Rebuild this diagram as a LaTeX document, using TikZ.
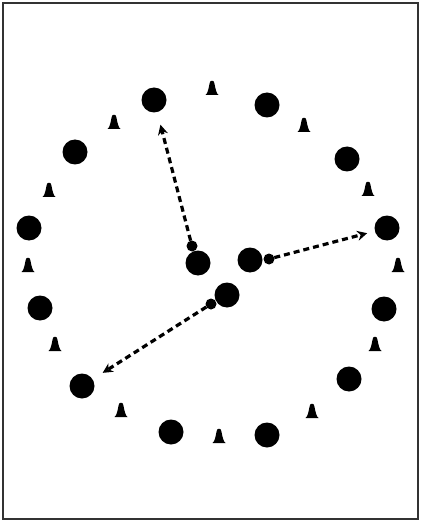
\documentclass[tikz,border=0pt]{standalone}
\usepackage{tikz}
\usetikzlibrary{positioning,arrows.meta}
\tikzset{
    bigdot/.style={circle, fill=black, minimum size=25pt, inner sep=0pt, outer sep=0pt},
    smalldot/.style={circle, fill=black, minimum size=11pt, inner sep=0pt, outer sep=0pt},
    move/.style={line width=3.2pt, dash pattern=on 6pt off 4pt, -{Stealth[length=10pt,width=10pt]}},
    cone/.pic={\fill (-6.5,7) .. controls (-4.5,6) and (-3.5,1) .. (-2.3,-5) arc (180:360:2.3) .. controls (3.5,1) and (4.5,6) .. (6.5,7) -- cycle;}
}

\begin{document}
\begin{tikzpicture}[x=1pt, y=-1pt]
    \useasboundingbox (0,0) rectangle (420,521);
    \draw[line width=1.5pt, black!80] (3,3) rectangle (418,519);

    % ring of players
    \node[bigdot] (d1) at (154,100) {};
    \node[bigdot] (d2) at (267,105) {};
    \node[bigdot] (d3) at (347,159) {};
    \node[bigdot] (d4) at (387,228) {};
    \node[bigdot] (d5) at (384,309) {};
    \node[bigdot] (d6) at (349,379) {};
    \node[bigdot] (d7) at (267,435) {};
    \node[bigdot] (d8) at (171,432) {};
    \node[bigdot] (d9) at (82,386) {};
    \node[bigdot] (d10) at (40,308) {};
    \node[bigdot] (d11) at (29,228) {};
    \node[bigdot] (d12) at (75,152) {};

    % middle
    \node[bigdot] (c1) at (198,263) {};
    \node[bigdot] (c2) at (250,260) {};
    \node[bigdot] (c3) at (227,295) {};
    \node[smalldot] (s1) at (192,246) {};
    \node[smalldot] (s2) at (269,259) {};
    \node[smalldot] (s3) at (211,304) {};

    % cones
    \foreach \x/\y in {212/88, 304/125, 368/189, 398/265, 375/344, 312/411,
                       219/436, 121/410, 55/344, 28/265, 49/190, 114/122}
        \pic at (\x,\y) {cone};

    \draw[move, shorten >=13pt] (s1) -- (d1);
    \draw[move, shorten >=8pt] (s2) -- (d4);
    \draw[move, shorten >=12pt] (s3) -- (d9);
\end{tikzpicture}
\end{document}
